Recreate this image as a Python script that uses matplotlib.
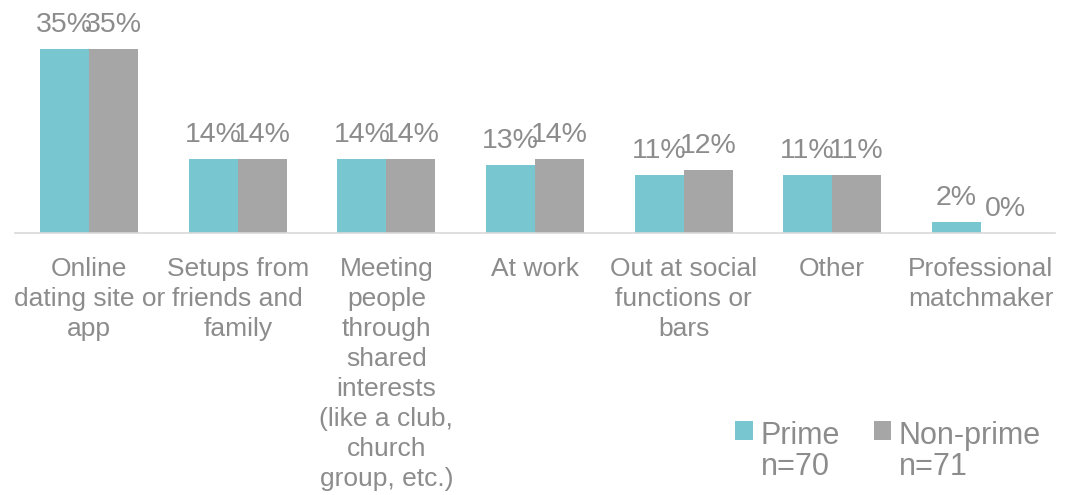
import numpy as np
import matplotlib
matplotlib.use("Agg")
import matplotlib.pyplot as plt
from matplotlib.patches import Rectangle
from matplotlib.legend_handler import HandlerPatch

# data
categories = [
    "Online\ndating site or\napp",
    "Setups from\nfriends and\nfamily",
    "Meeting\npeople\nthrough\nshared\ninterests\n(like a club,\nchurch\ngroup, etc.)",
    "At work",
    "Out at social\nfunctions or\nbars",
    "Other",
    "Professional\nmatchmaker",
]
prime = [35, 14, 14, 13, 11, 11, 2]
non_prime = [35, 14, 14, 14, 12, 11, 0]
series_labels = ["Prime\nn=70", "Non-prime\nn=71"]

plt.rcParams["font.family"] = ["Liberation Sans", "DejaVu Sans"]

TEAL = "#78C6D0"
GRAY = "#A6A6A6"
TEXT = "#8C8C8C"

fig = plt.figure(figsize=(10.68, 4.95), dpi=100)
ax = fig.add_axes([15 / 1068, 1 - 233 / 495, 1040 / 1068, 233 / 495])

x = np.arange(len(categories))
w = 0.33
b1 = ax.bar(x - w / 2, prime, w, color=TEAL, label=series_labels[0])
b2 = ax.bar(x + w / 2, non_prime, w, color=GRAY, label=series_labels[1])

for bars in (b1, b2):
    ax.bar_label(bars, labels=[f"{v:g}%" for v in bars.datavalues],
                 padding=8, fontsize=20.5, color=TEXT)

ax.set_xlim(-0.5, len(categories) - 0.5)
ax.set_ylim(0, 44.3)
ax.set_yticks([])
ax.set_xticks(x)
ax.set_xticklabels(categories, fontsize=19, color=TEXT, linespacing=1.32)
ax.tick_params(axis="x", length=0, pad=17)
for side in ("top", "right", "left"):
    ax.spines[side].set_visible(False)
ax.spines["bottom"].set_color("#D9D9D9")
ax.spines["bottom"].set_linewidth(1.2)


# legend square sits beside the first line of each two-line label
def top_square(legend, orig_handle, xdescent, ydescent, width, height, fontsize):
    return Rectangle((-xdescent, -ydescent + 16), width, height)


leg = fig.legend(handles=[b1.patches[0], b2.patches[0]], labels=series_labels,
                 loc="upper left", bbox_to_anchor=(723 / 1068, 1 - 409 / 495),
                 ncol=2, frameon=False, fontsize=22, handlelength=0.58,
                 handleheight=0.58, handletextpad=0.25, columnspacing=1.1,
                 borderaxespad=0, labelcolor=TEXT, labelspacing=0.2,
                 handler_map={Rectangle: HandlerPatch(patch_func=top_square)})
for t in leg.get_texts():
    t.set_linespacing(1.05)

fig.savefig("out.png", dpi=100)
